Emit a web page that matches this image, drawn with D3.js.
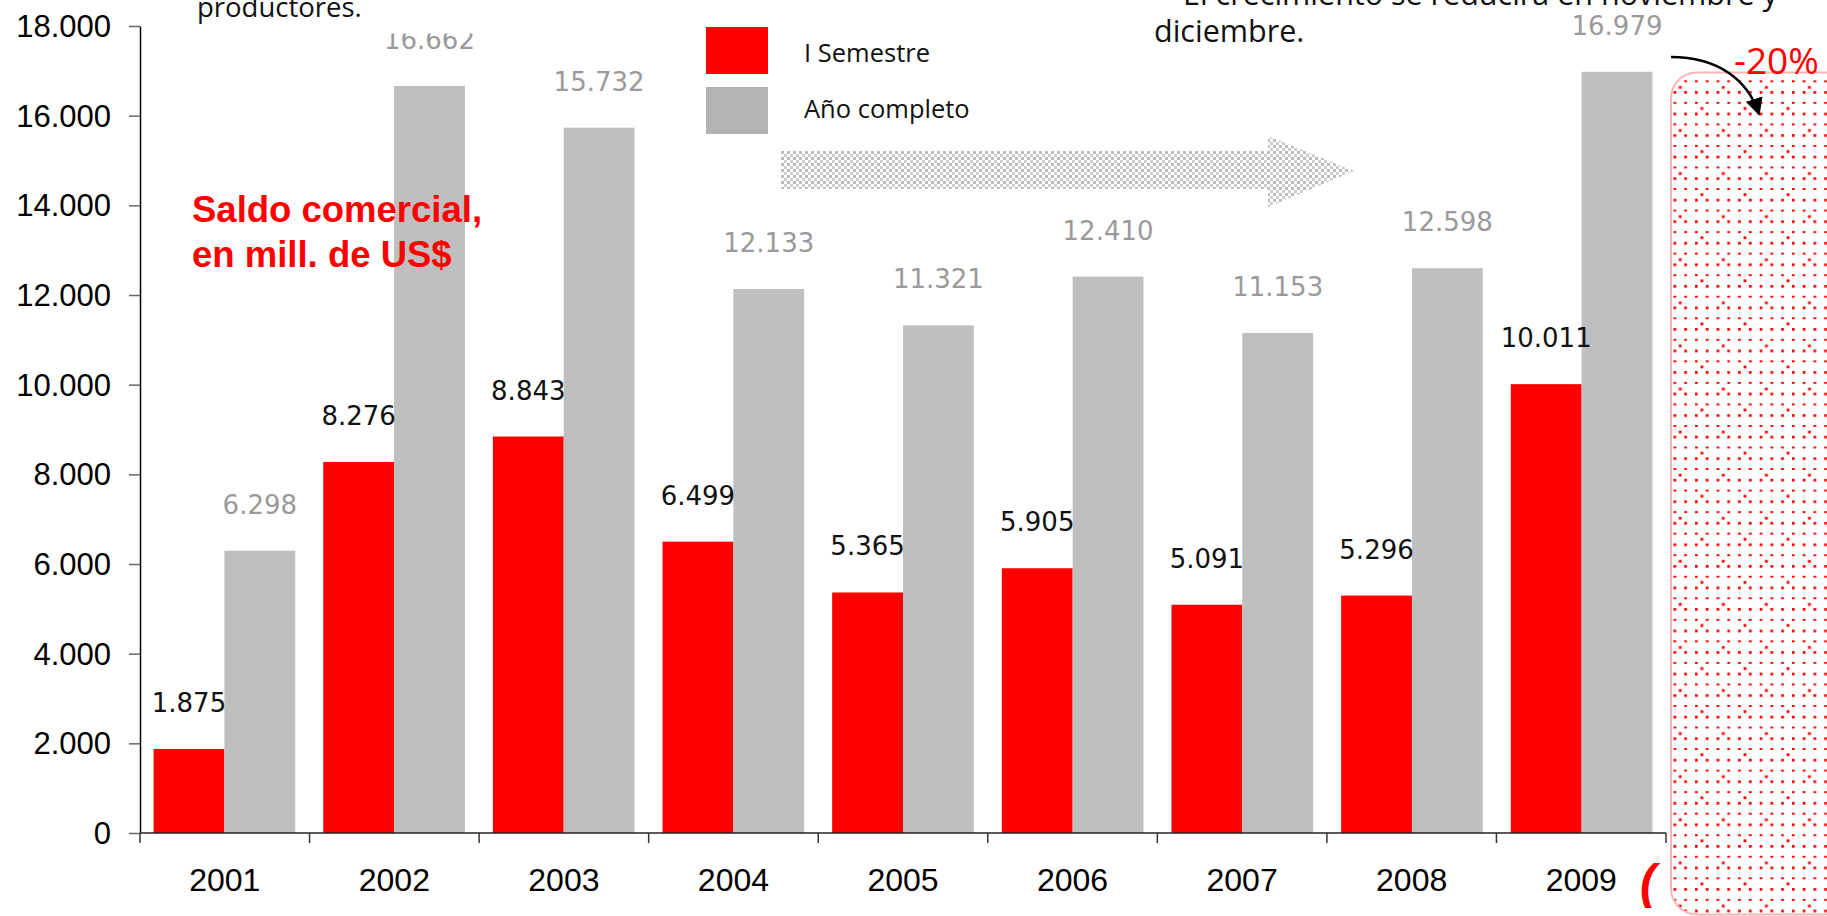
<!DOCTYPE html>
<html>
<head>
<meta charset="utf-8">
<script src="https://cdn.jsdelivr.net/npm/d3@7"></script>
<style>
  html, body { margin: 0; padding: 0; background: #fff; }
  svg { display: block; }
</style>
</head>
<body>
<svg id="chart" width="1827" height="916"></svg>
<script>
// ---- data ----
const years = ["2001","2002","2003","2004","2005","2006","2007","2008","2009"];
const semestre = [1875, 8276, 8843, 6499, 5365, 5905, 5091, 5296, 10011];
const anioCompleto = [6298, 16662, 15732, 12133, 11321, 12410, 11153, 12598, 16979];
const seriesNames = ["I Semestre", "Año completo"];
const yTicks = [0, 2000, 4000, 6000, 8000, 10000, 12000, 14000, 16000, 18000];

const RED = "#ff0000", GRAY = "#bfbfbf", LABEL_GRAY = "#9a9a9a";

const svg = d3.select("#chart");
const locale = d3.formatLocale({decimal: ",", thousands: ".", grouping: [3], currency: ["", ""]});
const fmt = locale.format(",");

const x0 = d3.scaleBand().domain(years).range([140, 1666]).paddingInner(0.165).paddingOuter(0.08);
const x1 = d3.scaleBand().domain(["sem", "anio"]).range([0, x0.bandwidth()]);
const xb = d3.scaleLinear().domain([0, years.length]).range([140, 1666]);
const y = d3.scaleLinear().domain([0, 18000]).range([833, 26]);

const defs = svg.append("defs");
// dotted red pattern
const T = 10.77;
const pr = defs.append("pattern").attr("id", "reddots").attr("patternUnits", "userSpaceOnUse")
  .attr("x", 1673.5).attr("y", 306.5).attr("width", 4 * T).attr("height", 4 * T);
for (let i = 0; i < 4; i++) for (let j = 0; j < 4; j++) {
  pr.append("rect").attr("x", i * T).attr("y", j * T).attr("width", 2.7).attr("height", (j % 2 === 0) ? 2.7 : 2.0).attr("fill", RED);
}
[[5.3, 38], [27, 16]].forEach(p => {
  pr.append("rect").attr("x", p[0]).attr("y", p[1]).attr("width", 2.8).attr("height", 2.8).attr("fill", RED);
});
// checkered gray pattern for big arrow
const pg = defs.append("pattern").attr("id", "graychk").attr("patternUnits", "userSpaceOnUse")
  .attr("x", 781).attr("y", 151).attr("width", 6).attr("height", 6);
pg.append("rect").attr("x", 0).attr("y", 0).attr("width", 3).attr("height", 3).attr("fill", "#bcbcbc");
pg.append("rect").attr("x", 3).attr("y", 3).attr("width", 3).attr("height", 3).attr("fill", "#cdcdcd");
defs.append("marker").attr("id", "ah").attr("viewBox", "0 0 10 10").attr("refX", 9).attr("refY", 5)
  .attr("markerWidth", 7).attr("markerHeight", 7).attr("orient", "auto-start-reverse").attr("markerUnits", "strokeWidth")
  .append("path").attr("d", "M0,0 L10,5 L0,10 z").attr("fill", "#000");

// ---- bars ----
const groups = svg.append("g").selectAll("g").data(years).join("g")
  .attr("transform", d => `translate(${x0(d)},0)`);
groups.append("rect")
  .attr("x", x1("sem")).attr("width", x1.bandwidth())
  .attr("y", (d, i) => y(semestre[i])).attr("height", (d, i) => y(0) - y(semestre[i]))
  .attr("fill", RED);
groups.append("rect")
  .attr("x", x1("anio")).attr("width", x1.bandwidth())
  .attr("y", (d, i) => y(anioCompleto[i])).attr("height", (d, i) => y(0) - y(anioCompleto[i]))
  .attr("fill", GRAY);
groups.append("text")
  .attr("x", x1("sem") + x1.bandwidth() / 2).attr("y", (d, i) => y(semestre[i]) - 37)
  .attr("text-anchor", "middle").attr("font-family", "DejaVu Sans").attr("font-size", 26)
  .attr("fill", "#111").text((d, i) => fmt(semestre[i]));
groups.append("text")
  .attr("x", x1("anio") + x1.bandwidth() / 2).attr("y", (d, i) => y(anioCompleto[i]) - 37)
  .attr("text-anchor", "middle").attr("font-family", "DejaVu Sans").attr("font-size", 26)
  .attr("fill", LABEL_GRAY).text((d, i) => fmt(anioCompleto[i]));

// ---- y axis ----
const ya = svg.append("g").attr("transform", "translate(140,0)")
  .call(d3.axisLeft(y).tickValues(yTicks).tickSize(11).tickSizeOuter(0).tickPadding(18).tickFormat(fmt));
ya.select(".domain").attr("stroke", "#000").attr("stroke-width", 1.5);
ya.selectAll(".tick line").attr("stroke", "#666").attr("stroke-width", 1.5);
ya.selectAll(".tick text").attr("font-family", "Liberation Sans, Arial, sans-serif").attr("font-size", 31)
  .attr("fill", "#000").attr("dy", "0.34em");

// ---- x axis ----
const xa = svg.append("g");
xa.append("line").attr("x1", xb(0)).attr("x2", xb(years.length)).attr("y1", y(0)).attr("y2", y(0))
  .attr("stroke", "#222").attr("stroke-width", 1.5);
xa.selectAll(".bt").data(d3.range(years.length + 1)).join("line").attr("class", "bt")
  .attr("x1", d => xb(d)).attr("x2", d => xb(d)).attr("y1", y(0)).attr("y2", y(0) + 10)
  .attr("stroke", "#333").attr("stroke-width", 1.5);
xa.selectAll(".yl").data(years).join("text").attr("class", "yl")
  .attr("x", (d, i) => (xb(i) + xb(i + 1)) / 2).attr("y", 891)
  .attr("text-anchor", "middle").attr("font-family", "Liberation Sans, Arial, sans-serif")
  .attr("font-size", 32).attr("fill", "#000").text(d => d);

// ---- white box covering top of label + text ----
svg.append("rect").attr("x", 185).attr("y", 0).attr("width", 505).attr("height", 33.5).attr("fill", "#fff");
svg.append("text").attr("x", 197).attr("y", 16.5).attr("font-family", "Open Sans").attr("font-size", 27.5)
  .attr("fill", "#111").text("productores.");
svg.append("text").attr("x", 1183).attr("y", 4.5).attr("font-family", "Open Sans").attr("font-size", 30.5)
  .attr("fill", "#111").text("El crecimiento se reducirá en noviembre y");
svg.append("text").attr("x", 1154).attr("y", 41.5).attr("font-family", "Open Sans").attr("font-size", 30.5)
  .attr("fill", "#111").text("diciembre.");

// ---- title ----
const tt = svg.append("text").attr("font-family", "Liberation Sans, Arial, sans-serif").attr("font-weight", "bold")
  .attr("font-size", 36.5).attr("fill", RED);
tt.append("tspan").attr("x", 192).attr("y", 222).text("Saldo comercial,");
tt.append("tspan").attr("x", 192).attr("y", 267).text("en mill. de US$");

// ---- legend ----
const lg = svg.append("g");
const legColors = [RED, "#b3b3b3"];
lg.selectAll("rect").data(seriesNames).join("rect")
  .attr("x", 706).attr("y", (d, i) => 27 + i * 60).attr("width", 62).attr("height", 47)
  .attr("fill", (d, i) => legColors[i]);
lg.selectAll("text").data(seriesNames).join("text")
  .attr("x", 804).attr("y", (d, i) => 62 + i * 56).attr("font-family", "Open Sans").attr("font-size", 25.5)
  .attr("fill", "#111").text(d => d);

// ---- big dotted arrow ----
svg.append("polygon")
  .attr("points", "781,151 1268,151 1268,136 1354,171 1268,207 1268,189 781,189")
  .attr("fill", "url(#graychk)");

// ---- red dotted rounded box ----
svg.append("rect").attr("x", 1671).attr("y", 72.5).attr("width", 200).attr("height", 842).attr("rx", 26)
  .attr("fill", "url(#reddots)").attr("stroke", "#f7b4b4").attr("stroke-width", 2);
svg.append("text").attr("x", 1734).attr("y", 74).attr("font-family", "Open Sans").attr("font-size", 37)
  .attr("fill", RED).text("-20%");
svg.append("path").attr("d", "M1671,57 C1718,57 1748,80 1759,114")
  .attr("fill", "none").attr("stroke", "#000").attr("stroke-width", 2.5).attr("marker-end", "url(#ah)");
svg.append("text").attr("x", 1640).attr("y", 898).attr("font-family", "Liberation Sans, Arial, sans-serif")
  .attr("font-style", "italic").attr("font-weight", "bold").attr("font-size", 48).attr("fill", RED).text("(");
</script>
</body>
</html>
